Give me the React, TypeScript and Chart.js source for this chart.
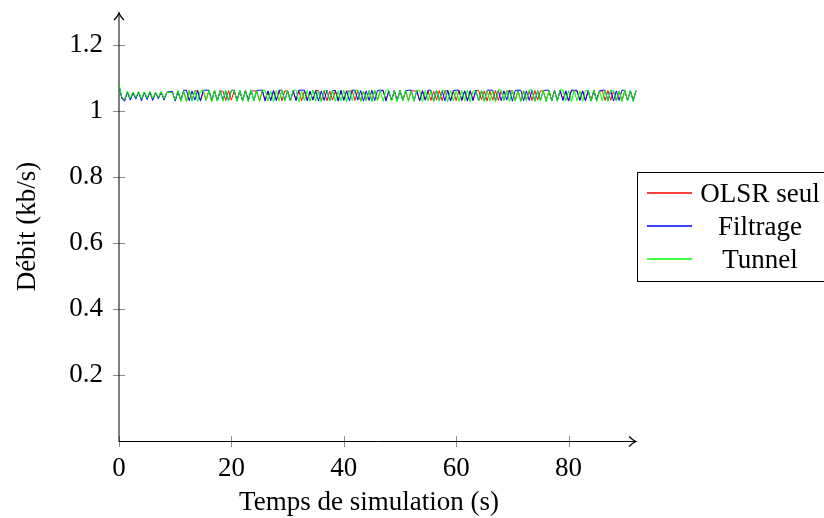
import React, { useEffect, useRef } from "react";
import { Chart, registerables } from "chart.js";

Chart.register(...registerables);

// Sampling step of the simulation trace (seconds)
const sampleStep = 0.5;

const seriesNames = ["OLSR seul", "Filtrage", "Tunnel"];
const seriesColors = ["#ff0000", "#0000ff", "#00ff00"];

const olsrSeul = [
  1.078,1.040,1.034,1.058,1.036,1.056,1.040,1.058,1.034,1.057,
  1.038,1.058,1.036,1.056,1.040,1.058,1.036,1.055,1.058,1.057,
  1.033,1.061,1.032,1.060,1.031,1.062,1.033,1.061,1.061,1.032,
  1.060,1.033,1.062,1.031,1.061,1.034,1.060,1.060,1.032,1.062,
  1.033,1.061,1.031,1.060,1.033,1.062,1.032,1.061,1.061,1.060,
  1.031,1.062,1.033,1.060,1.032,1.061,1.034,1.062,1.031,1.061,
  1.061,1.033,1.060,1.032,1.062,1.031,1.061,1.033,1.060,1.034,
  1.062,1.062,1.032,1.061,1.031,1.060,1.033,1.062,1.032,1.061,
  1.034,1.060,1.060,1.061,1.032,1.062,1.031,1.060,1.033,1.061,
  1.032,1.062,1.034,1.061,1.061,1.033,1.060,1.031,1.062,1.032,
  1.061,1.033,1.060,1.032,1.061,1.061,1.060,1.031,1.062,1.033,
  1.061,1.032,1.060,1.034,1.062,1.031,1.061,1.061,1.033,1.060,
  1.032,1.062,1.031,1.061,1.033,1.060,1.032,1.062,1.062,1.034,
  1.061,1.031,1.060,1.033,1.062,1.032,1.061,1.033,1.060,1.060,
  1.061,1.032,1.062,1.031,1.061,1.034,1.060,1.032,1.062,1.033,
  1.061,1.061,1.031,1.060,1.033,1.062,1.032,1.061,1.034,1.060,
  1.031,1.062,1.062,1.060,1.033,1.061,1.032,1.062,1.031,1.060,
  1.034,1.061,1.061,1.032,1.062,1.033,1.060,1.031,1.061,1.032,
  1.062,1.033,1.060,1.034,1.061,
];

const filtrage = [
  1.076,1.038,1.030,1.057,1.033,1.055,1.036,1.057,1.031,1.056,
  1.035,1.057,1.032,1.055,1.037,1.057,1.033,1.056,1.059,1.059,
  1.030,1.058,1.032,1.063,1.063,1.031,1.061,1.033,1.062,1.030,
  1.063,1.063,1.063,1.032,1.061,1.030,1.062,1.033,1.060,1.031,
  1.063,1.063,1.032,1.062,1.030,1.061,1.033,1.063,1.031,1.062,
  1.063,1.063,1.030,1.061,1.032,1.062,1.031,1.063,1.063,1.033,
  1.061,1.030,1.062,1.032,1.063,1.063,1.063,1.031,1.060,1.033,
  1.062,1.030,1.061,1.032,1.063,1.031,1.062,1.062,1.030,1.063,
  1.032,1.061,1.031,1.063,1.063,1.033,1.062,1.030,1.061,1.032,
  1.063,1.031,1.062,1.063,1.063,1.030,1.061,1.033,1.062,1.031,
  1.063,1.032,1.060,1.063,1.063,1.030,1.062,1.031,1.061,1.033,
  1.063,1.063,1.030,1.062,1.032,1.061,1.031,1.063,1.030,1.062,
  1.063,1.063,1.033,1.061,1.030,1.062,1.032,1.063,1.031,1.061,
  1.030,1.063,1.063,1.063,1.032,1.062,1.031,1.061,1.033,1.063,
  1.030,1.062,1.063,1.063,1.031,1.061,1.032,1.063,1.030,1.062,
  1.033,1.061,1.063,1.063,1.030,1.062,1.031,1.063,1.032,1.061,
  1.030,1.063,1.063,1.063,1.032,1.061,1.031,1.062,1.030,1.063,
  1.033,1.061,1.063,1.063,1.031,1.062,1.030,1.061,1.032,1.063,
  1.063,1.031,1.062,1.030,1.061,
];

const tunnel = [
  1.079,1.042,1.035,1.060,1.038,1.058,1.041,1.059,1.036,1.058,
  1.040,1.059,1.038,1.057,1.041,1.059,1.037,1.057,1.057,1.055,
  1.034,1.062,1.029,1.061,1.028,1.063,1.030,1.062,1.029,1.061,
  1.064,1.031,1.062,1.028,1.063,1.030,1.061,1.029,1.064,1.031,
  1.062,1.062,1.029,1.063,1.030,1.061,1.028,1.064,1.031,1.062,
  1.029,1.063,1.063,1.030,1.061,1.028,1.062,1.031,1.064,1.029,
  1.062,1.030,1.063,1.063,1.028,1.061,1.031,1.062,1.029,1.064,
  1.030,1.061,1.028,1.062,1.062,1.031,1.063,1.029,1.061,1.030,
  1.064,1.028,1.062,1.031,1.063,1.063,1.029,1.061,1.030,1.062,
  1.028,1.064,1.031,1.062,1.029,1.063,1.063,1.030,1.061,1.028,
  1.062,1.031,1.064,1.029,1.061,1.030,1.063,1.063,1.028,1.062,
  1.031,1.061,1.029,1.064,1.030,1.062,1.062,1.028,1.063,1.031,
  1.061,1.029,1.062,1.030,1.064,1.028,1.061,1.061,1.031,1.063,
  1.029,1.062,1.030,1.061,1.028,1.064,1.064,1.031,1.062,1.029,
  1.063,1.030,1.061,1.028,1.062,1.031,1.064,1.064,1.029,1.061,
  1.030,1.063,1.028,1.062,1.031,1.061,1.029,1.064,1.064,1.030,
  1.062,1.028,1.063,1.031,1.061,1.029,1.062,1.062,1.030,1.064,
  1.028,1.061,1.031,1.063,1.029,1.062,1.062,1.030,1.061,1.028,
  1.064,1.031,1.062,1.029,1.063,
];

const xTickValues = [0, 20, 40, 60, 80];
const xTickLabels = ["0", "20", "40", "60", "80"];
const yTickValues = [0.2, 0.4, 0.6, 0.8, 1, 1.2];
const yTickLabels = ["0.2", "0.4", "0.6", "0.8", "1", "1.2"];

const xTitle = "Temps de simulation (s)";
const yTitle = "Débit (kb/s)";

const X_MIN = 0;
const X_MAX = 92;
const Y_MIN = 0;
const Y_MAX = 1.3;

const FONT_FAMILY = "'Liberation Serif', 'DejaVu Serif', serif";
const FONT_SIZE = 27;

function toPoints(values: number[]) {
  return values.map((v, i) => ({ x: i * sampleStep, y: v }));
}

function drawArrow(ctx: CanvasRenderingContext2D, tx: number, ty: number, dir: "up" | "right") {
  ctx.beginPath();
  if (dir === "up") {
    ctx.moveTo(tx - 5, ty + 7);
    ctx.quadraticCurveTo(tx - 1, ty + 3, tx, ty);
    ctx.quadraticCurveTo(tx + 1, ty + 3, tx + 5, ty + 7);
  } else {
    ctx.moveTo(tx - 7, ty - 5);
    ctx.quadraticCurveTo(tx - 3, ty - 1, tx, ty);
    ctx.quadraticCurveTo(tx - 3, ty + 1, tx - 7, ty + 5);
  }
  ctx.stroke();
}

const axesPlugin = {
  id: "pgfAxes",
  beforeDatasetsDraw(chart: any) {
    const { ctx, chartArea, scales } = chart;
    const xs = scales.x;
    const ys = scales.y;
    const x0 = xs.getPixelForValue(X_MIN);
    const y0 = ys.getPixelForValue(Y_MIN);
    ctx.save();
    ctx.lineWidth = 1;
    // tick marks
    ctx.strokeStyle = "#8c8c8c";
    yTickValues.forEach((v) => {
      const py = Math.round(ys.getPixelForValue(v)) + 0.5;
      ctx.beginPath();
      ctx.moveTo(x0 - 6, py);
      ctx.lineTo(x0 + 6, py);
      ctx.stroke();
    });
    xTickValues.forEach((v) => {
      const px = Math.round(xs.getPixelForValue(v)) + 0.5;
      ctx.beginPath();
      ctx.moveTo(px, y0 - 5);
      ctx.lineTo(px, y0 + 6);
      ctx.stroke();
    });
    // y axis
    ctx.strokeStyle = "#000";
    ctx.beginPath();
    ctx.moveTo(x0, y0 + 1);
    ctx.lineTo(x0, chartArea.top + 1);
    ctx.stroke();
    ctx.lineWidth = 1.2;
    drawArrow(ctx, x0, chartArea.top + 1, "up");
    // x axis
    ctx.lineWidth = 1;
    ctx.beginPath();
    ctx.moveTo(x0, Math.round(y0) + 0.5);
    ctx.lineTo(chartArea.right, Math.round(y0) + 0.5);
    ctx.stroke();
    ctx.lineWidth = 1.2;
    drawArrow(ctx, chartArea.right, Math.round(y0) + 0.5, "right");
    ctx.restore();
  },
  afterDraw(chart: any) {
    const { ctx } = chart;
    ctx.save();
    // x axis title
    ctx.fillStyle = "#000";
    ctx.font = `${FONT_SIZE}px ${FONT_FAMILY}`;
    ctx.textAlign = "center";
    ctx.textBaseline = "alphabetic";
    ctx.fillText(xTitle, 369, 510);

    // legend box
    const bx = 637.5;
    const by = 172.5;
    const bw = 200;
    const bh = 109;
    ctx.fillStyle = "#fff";
    ctx.fillRect(bx, by, bw, bh);
    ctx.strokeStyle = "#000";
    ctx.lineWidth = 1;
    ctx.strokeRect(bx, by, bw, bh);
    const rowY = [193, 226, 259];
    seriesNames.forEach((name, i) => {
      const ly = rowY[i];
      ctx.save();
      ctx.strokeStyle = seriesColors[i];
      ctx.lineWidth = 1.4;
      ctx.beginPath();
      ctx.moveTo(647, ly);
      ctx.lineTo(692, ly);
      ctx.stroke();
      ctx.restore();
      ctx.fillStyle = "#000";
      ctx.textAlign = "center";
      ctx.fillText(name, 760, rowY[i] + 9);
    });
    ctx.restore();
  },
};

export default function App() {
  const canvasRef = useRef<HTMLCanvasElement | null>(null);

  useEffect(() => {
    const canvas = canvasRef.current;
    if (!canvas) return;
    const seriesData = [olsrSeul, filtrage, tunnel];
    const chart = new Chart(canvas, {
      type: "line",
      data: {
        datasets: seriesData.map((vals, i) => ({
          label: seriesNames[i],
          data: toPoints(vals),
          borderColor: seriesColors[i],
          backgroundColor: seriesColors[i],
          borderWidth: 1,
          pointRadius: 0,
          tension: 0,
          fill: false,
          clip: false as any,
          order: 2 - i,
        })),
      },
      options: {
        animation: false,
        responsive: false,
        maintainAspectRatio: false,
        events: [],
        layout: { padding: { left: 0, top: 12, right: 188, bottom: 0 } },
        plugins: {
          legend: { display: false },
          tooltip: { enabled: false },
          title: { display: false },
        },
        scales: {
          x: {
            type: "linear",
            min: X_MIN,
            max: X_MAX,
            grid: { display: false, drawTicks: false },
            border: { display: false },
            afterBuildTicks: (scale: any) => {
              scale.ticks = xTickValues.map((v) => ({ value: v }));
            },
            afterFit: (scale: any) => {
              scale.height = 77;
              scale.paddingLeft = 0;
              scale.paddingRight = 0;
            },
            ticks: {
              autoSkip: false,
              maxRotation: 0,
              padding: 12,
              color: "#000",
              font: { family: FONT_FAMILY, size: FONT_SIZE },
              callback: (v: any) => {
                const idx = xTickValues.indexOf(Number(v));
                return idx >= 0 ? xTickLabels[idx] : "";
              },
            },
          },
          y: {
            type: "linear",
            min: Y_MIN,
            max: Y_MAX,
            grid: { display: false, drawTicks: false },
            border: { display: false },
            afterBuildTicks: (scale: any) => {
              scale.ticks = yTickValues.map((v) => ({ value: v }));
            },
            afterFit: (scale: any) => {
              scale.width = 119;
              scale.paddingTop = 0;
              scale.paddingBottom = 0;
            },
            title: {
              display: true,
              text: yTitle,
              color: "#000",
              font: { family: FONT_FAMILY, size: FONT_SIZE },
              padding: { top: 12, bottom: 0 },
            },
            ticks: {
              autoSkip: false,
              padding: 16,
              color: "#000",
              font: { family: FONT_FAMILY, size: FONT_SIZE },
              callback: (v: any) => {
                const idx = yTickValues.indexOf(Number(v));
                return idx >= 0 ? yTickLabels[idx] : "";
              },
            },
          },
        },
      },
      plugins: [axesPlugin],
    } as any);
    return () => chart.destroy();
  }, []);

  return (
    <div style={{ position: "fixed", left: 0, top: 0, width: 824, height: 518, background: "#fff" }}>
      <canvas ref={canvasRef} width={824} height={518} style={{ width: 824, height: 518, display: "block" }} />
    </div>
  );
}
